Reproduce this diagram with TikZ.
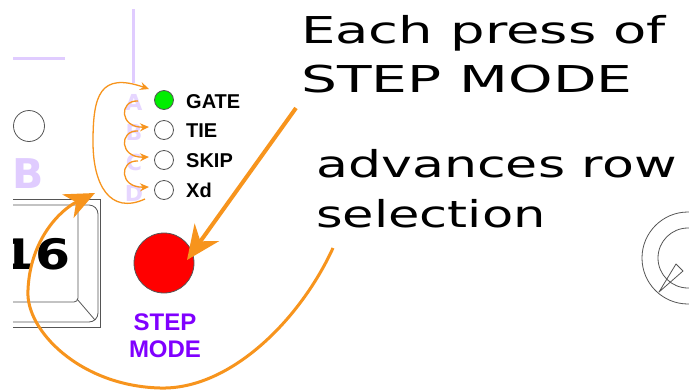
\documentclass[tikz,border=0pt]{standalone}
\usepackage{fontspec}
\usetikzlibrary{arrows.meta}
\newfontfamily\dvfont{DejaVu Sans}
\newfontfamily\lsfont{Liberation Sans}
\definecolor{orng}{HTML}{F7941D}
\definecolor{lav}{HTML}{E0CCFF}
\definecolor{lavlt}{HTML}{E6D6FF}
\definecolor{purp}{HTML}{8000FF}
\definecolor{ledgreen}{HTML}{00EE00}
\definecolor{panelgray}{HTML}{555555}
\begin{document}
\begin{tikzpicture}[x=1pt,y=-1pt,
  panel/.style={draw=panelgray, line width=0.8pt},
  lavline/.style={draw=lav, line width=3pt},
  led/.style={circle, draw=panelgray, line width=0.8pt, minimum size=19pt, inner sep=0pt},
  ledlabel/.style={font=\lsfont\bfseries\fontsize{20pt}{24pt}\selectfont, anchor=base west, inner sep=0pt},
  rowletter/.style={font=\dvfont\bfseries\fontsize{22pt}{24pt}\selectfont, text=lavlt, inner sep=0pt},
  bigtext/.style={font=\dvfont\fontsize{37pt}{40pt}\selectfont, anchor=base west, inner sep=0pt},
  steplabel/.style={font=\lsfont\bfseries\fontsize{24pt}{27pt}\selectfont, text=purp, align=center, inner sep=0pt},
  thinarrow/.style={draw=orng, line width=1.3pt, -{Stealth[length=9pt,width=8pt,inset=3pt]}},
  thickarrow/.style={draw=orng, line width=4pt, -{Stealth[length=34pt,width=30pt,inset=11pt]}},
  curvearrow/.style={draw=orng, line width=3pt, -{Stealth[length=30pt,width=26pt,inset=9pt]}}
]
\useasboundingbox[fill=white] (0,0) rectangle (689,389);

% lavender panel marks
\draw[lavline] (133,9) -- (133,83);
\draw[lavline] (13,58) -- (65,58);
\node[font=\dvfont\bfseries\fontsize{41pt}{44pt}\selectfont, text=lav, anchor=base west, inner sep=0pt] (bigB) at (12,188) {B};

% small panel circle
\node[circle, draw=panelgray, line width=0.8pt, minimum size=31pt, inner sep=0pt] (pancirc) at (29,126) {};

% key box with 16
\draw[panel] (13,199) -- (100,199) -- (100,327) -- (13,327);
\draw[panel, rounded corners=9pt] (13,205) -- (98,205) -- (98,322) -- (13,322);
\draw[panel, rounded corners=4pt] (13,302) -- (78,302) -- (78,205);
\draw[panel] (77,299) -- (95,320);
\begin{scope}
  \clip (13,220) rectangle (95,290);
  \node[font=\dvfont\bfseries\fontsize{42pt}{44pt}\selectfont, anchor=base east, inner sep=0pt] (keynum) at (71,269) {\scalebox{1.2}[1]{16}};
\end{scope}

% row letters
\node[rowletter] (rowA) at (134,102) {A};
\node[rowletter] (rowB) at (134,132) {B};
\node[rowletter] (rowC) at (134,162) {C};
\node[rowletter] (rowD) at (134,193) {D};

% LEDs
\node[led, fill=ledgreen] (gate) at (164,100) {};
\node[led] (tie) at (164,130) {};
\node[led] (skip) at (164,160) {};
\node[led] (xd) at (164,190) {};
\node[ledlabel] (gatel) at (186,108) {GATE};
\node[ledlabel] (tiel) at (186,137) {TIE};
\node[ledlabel] (skipl) at (186,167) {SKIP};
\node[ledlabel] (xdl) at (186,197) {Xd};

% step mode button
\node[circle, draw=panelgray, line width=0.8pt, fill=red, minimum size=60pt, inner sep=0pt] (stepbtn) at (164,263) {};
\node[steplabel, anchor=base] (stepl) at (165,330) {STEP};
\node[steplabel, anchor=base] (model) at (165,357) {MODE};

% knob
\draw[panel] (688,258) circle[radius=46pt];
\draw[panel] (688,258) circle[radius=30pt];
\draw[panel, line join=round] (659,292) -- (676,264) -- (683,271) -- cycle;

% right-hand text
\node[bigtext] (line1) at (301,43) {\scalebox{1.47}[1]{Each press of}};
\node[bigtext] (line2) at (301,92) {\scalebox{1.53}[1]{STEP MODE}};
\node[bigtext] (line3) at (316,177) {\scalebox{1.41}[1]{advances row}};
\node[bigtext] (line4) at (316,227) {\scalebox{1.38}[1]{selection}};

% row-advance arrows
\draw[thinarrow] ([shift={(-26,1)}]gate.center) .. controls +(-19,-1) and +(-30,1) .. ([shift={(-15,-3)}]tie.center);
\draw[thinarrow] ([shift={(-26,1)}]tie.center) .. controls +(-19,-1) and +(-30,1) .. ([shift={(-15,-3)}]skip.center);
\draw[thinarrow] ([shift={(-26,1)}]skip.center) .. controls +(-19,-1) and +(-30,1) .. ([shift={(-15,-3)}]xd.center);
\draw[thinarrow] ([shift={(-19,9)}]xd.center) .. controls (110,215) and (93,185) .. (93,142)
   .. controls (93,95) and (100,72) .. ([shift={(-15,-11)}]gate.center);

% press arrow
\coordinate (presstail) at (296,108);
\coordinate (presstip) at (187,260);
\draw[thickarrow] (presstail) -- (presstip);

% advance curve
\coordinate (advtail) at (333,248);
\coordinate (advtip) at (95,193);
\draw[curvearrow] (advtail) .. controls (300,320) and (230,390) .. (160,388)
   .. controls (80,386) and (25,330) .. (28,290)
   .. controls (30,240) and (60,210) .. (advtip);
\end{tikzpicture}
\end{document}
